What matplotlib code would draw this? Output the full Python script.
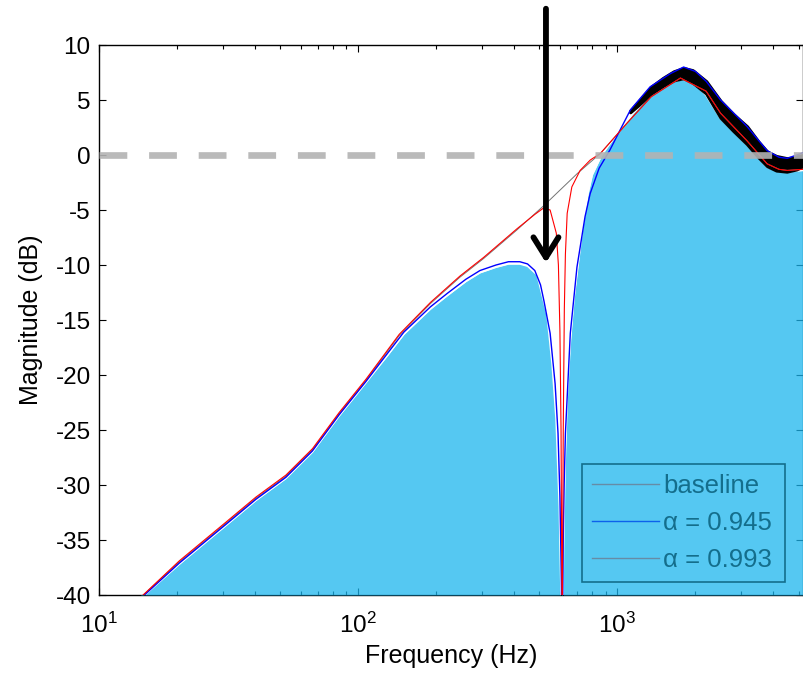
import matplotlib
matplotlib.use("Agg")
import matplotlib.pyplot as plt
from matplotlib.lines import Line2D

plt.rcParams['font.family'] = ['Liberation Sans', 'DejaVu Sans']
plt.rcParams['mathtext.fontset'] = 'custom'
plt.rcParams['mathtext.rm'] = 'Liberation Sans'
plt.rcParams['mathtext.it'] = 'Liberation Sans:italic'
plt.rcParams['axes.unicode_minus'] = False

# respuesta de referencia (sin filtro)
baseline_f = [14.5, 20.4, 30.8, 40.3, 52.6, 66.6, 84.5, 107, 144, 190, 247, 305,
              410, 520, 699, 860, 1089, 1350, 1750, 2200, 2500, 3160, 3780,
              4200, 4520, 5200]
baseline_db = [-40.2, -37.0, -33.5, -31.2, -29.2, -26.8, -23.5, -20.5, -16.4,
               -13.5, -11.1, -9.4, -6.8, -4.6, -1.7, 0.15, 2.9, 5.3, 7.0, 5.8,
               3.8, 1.3, -0.8, -1.3, -1.4, -1.3]

# alpha = 0.993 (muesca estrecha)
red_f = [14.5, 20.4, 30.8, 40.3, 52.6, 66.6, 84.5, 107, 144, 190, 247, 305,
         410, 480, 520, 550, 581, 592, 600, 606, 612, 618, 624, 630, 640, 667,
         718, 786, 860, 1089, 1350, 1750, 2200, 2500, 3160, 3780, 4200, 4520, 5200]
red_db = [-40.2, -36.9, -33.4, -31.1, -29.1, -26.7, -23.4, -20.4, -16.3, -13.4,
          -11.0, -9.3, -6.7, -5.4, -4.8, -5.0, -7.1, -10.0, -16.0, -25.0, -45.0,
          -25.0, -14.0, -9.0, -5.3, -2.9, -1.4, -0.45, 0.15, 2.9, 5.3, 7.0, 5.8,
          3.8, 1.3, -0.8, -1.3, -1.4, -1.3]

# alpha = 0.945 (muesca ancha)
blue_f = [14.5, 20.4, 30.8, 40.3, 52.6, 66.6, 84.5, 107, 130, 150, 190, 220,
          260, 295, 340, 380, 420, 450, 480, 505, 520, 550, 575, 590, 600, 607,
          613, 618, 623, 630, 658, 698, 750, 785, 850, 935, 1122, 1337, 1600,
          1800, 2000, 2200, 2500, 3160, 3780, 4200, 4520, 5200]
blue_db = [-40.3, -37.1, -33.6, -31.3, -29.3, -26.9, -23.6, -20.6, -18.0, -16.1,
           -13.8, -12.6, -11.3, -10.5, -10.0, -9.7, -9.7, -9.9, -10.5, -11.8,
           -13.2, -16.2, -20.8, -25.3, -31.0, -38.0, -45.0, -35.0, -30.0, -25.3,
           -16.2, -10.2, -5.6, -3.5, -1.2, 0.45, 4.1, 6.2, 7.4, 8.0, 7.6, 6.7,
           5.0, 2.6, 0.4, -0.2, -0.3, 0.2]

# respuesta medida (area)
fill_f = [14.5, 20.4, 30.8, 40.3, 52.6, 66.6, 84.5, 107, 130, 150, 190, 220,
          260, 295, 340, 380, 420, 450, 490, 535, 560, 580, 597, 612, 620, 628,
          640, 658, 680, 705, 735, 770, 800, 870, 960, 1150, 1350, 1600, 1800,
          2000, 2200, 2500, 3160, 3780, 4200, 4520, 5200]
fill_db = [-40.3, -37.2, -33.7, -31.4, -29.4, -27.0, -23.7, -20.7, -18.2, -16.3,
           -14.0, -12.8, -11.5, -10.7, -10.2, -9.9, -9.9, -10.1, -10.9, -14.5,
           -19.0, -24.0, -32.0, -45.0, -35.0, -28.0, -22.0, -17.0, -13.0, -10.0,
           -6.5, -3.5, -1.8, 0.0, 1.4, 3.8, 5.5, 6.6, 6.9, 6.5, 5.4, 3.3, 0.9,
           -1.1, -1.5, -1.5, -1.4]

# banda de realizaciones alrededor del pico
band_f = [1120, 1200, 1350, 1500, 1650, 1800, 1950, 2200, 2500, 2800,
          3160, 3500, 3780, 4100, 4500, 4900, 5200]
band_hi = [4.0, 4.8, 6.2, 7.0, 7.6, 7.9, 7.7, 6.7, 4.9, 3.7, 2.6, 1.2,
           0.3, -0.1, -0.3, -0.2, 0.0]
band_lo = [3.9, 4.5, 5.6, 6.3, 6.8, 7.0, 6.6, 5.6, 3.4, 2.2, 1.0, -0.2,
           -1.0, -1.4, -1.5, -1.3, -1.0]

legend_labels = ['baseline', 'α = 0.945', 'α = 0.993']

fig = plt.figure(figsize=(8.04, 6.75), dpi=100)
ax = fig.add_axes([0.1231, 0.1185, 0.8757, 0.8148])
ax.set_xscale('log')
ax.set_xlim(10, 5200)
ax.set_ylim(-40, 10)
ax.set_axisbelow(True)

ax.fill_between(fill_f, fill_db, -40, color=(0.11, 0.714, 0.933), alpha=0.75,
                lw=0, zorder=6)
ax.plot(fill_f, fill_db, color='white', lw=1.2, zorder=6.5)
ax.fill_between(band_f, band_lo, band_hi, color='black', lw=2.4,
                joinstyle='round', zorder=6.8)
ax.plot(baseline_f, baseline_db, color='0.45', lw=0.7, zorder=7)
ax.plot(blue_f, blue_db, color='#0000ff', lw=1.0, zorder=7.2)
ax.plot(red_f, red_db, color='#ff0000', lw=0.8, zorder=7.4)

ax.axhline(0, color=(0.7, 0.7, 0.7), alpha=0.9, lw=4.8,
           dashes=(4.17, 3.27), dash_capstyle='butt', zorder=8)

ax.annotate('', xy=(530, -9.8), xytext=(530, 13.3), xycoords='data',
            annotation_clip=False, zorder=9,
            arrowprops=dict(arrowstyle='->, head_length=0.72, head_width=0.45',
                            mutation_scale=20, lw=4.2, color='black',
                            shrinkA=0, shrinkB=0))

# leyenda en el recuadro inferior derecho
teal = (0.08, 0.43, 0.55)
grey_teal = (0.40, 0.55, 0.65)
handles = [Line2D([], [], color=grey_teal, lw=1.0),
           Line2D([], [], color=(0.05, 0.38, 0.92), lw=1.0),
           Line2D([], [], color=grey_teal, lw=1.0)]
leg = ax.legend(handles, legend_labels, loc='lower left',
                bbox_to_anchor=(0.686, 0.0236, 0.288, 0.209), mode='expand',
                borderaxespad=0, fontsize=18.5, handlelength=2.6,
                handletextpad=0.15, labelspacing=0.5, borderpad=0.4,
                fancybox=False, framealpha=1, facecolor='none',
                edgecolor=teal, labelcolor=teal)
leg.get_frame().set_linewidth(1.2)
leg.set_zorder(8.5)

ax.set_yticks(range(-40, 11, 5))
ax.tick_params(which='both', direction='in', top=True, right=True,
               labelsize=17.5, width=0.8)
ax.tick_params(axis='y', which='major', length=5, pad=6)
ax.tick_params(axis='x', which='major', length=5, pad=13)
ax.tick_params(which='minor', length=3)
for s in ax.spines.values():
    s.set_linewidth(1.0)

ax.set_xlabel('Frequency (Hz)', fontsize=18, labelpad=4)
ax.set_ylabel('Magnitude (dB)', fontsize=18, labelpad=9)

fig.savefig('out.png', dpi=100)
